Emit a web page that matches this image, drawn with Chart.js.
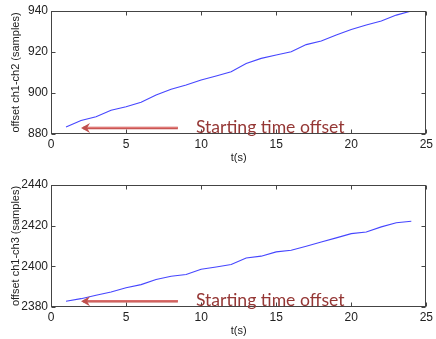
<!DOCTYPE html>
<html>
<head>
<meta charset="utf-8">
<script src="https://cdn.jsdelivr.net/npm/chart.js@4.4.0/dist/chart.umd.min.js"></script>
<style>
	body { margin: 0; background: #fff; }
	.box { position: absolute; left: 0; width: 436px; }
</style>
</head>
<body>
<div class="box" style="top:0;height:170px"><canvas id="ch12" width="436" height="170"></canvas></div>
<div class="box" style="top:170px;height:169px"><canvas id="ch13" width="436" height="169"></canvas></div>
<script>
// time axis (s)
const times = [1, 2, 3, 4, 5, 6, 7, 8, 9, 10, 11, 12, 13, 14, 15, 16, 17, 18, 19, 20, 21, 22, 23, 24];
// offset ch1-ch2 (samples)
const offset12 = [883.4, 886.6, 888.4, 891.6, 893.3, 895.5, 899.0, 901.8, 903.9, 906.3, 908.3, 910.4,
	914.4, 916.9, 918.5, 920.1, 923.6, 925.4, 928.3, 931.0, 933.2, 935.1, 938.0, 940.0];
// offset ch1-ch3 (samples)
const offset13 = [2382.8, 2384.1, 2385.8, 2387.4, 2389.5, 2391.0, 2393.5, 2395.1, 2396.0, 2398.6, 2399.7, 2400.9,
	2404.1, 2405.0, 2407.1, 2407.9, 2409.9, 2412.0, 2414.0, 2416.1, 2416.9, 2419.4, 2421.4, 2422.2];
const xTicks = [0, 5, 10, 15, 20, 25];
const yTicks12 = [880, 900, 920, 940];
const yTicks13 = [2380, 2400, 2420, 2440];
const noteText = 'Starting time offset';

const tickFont = { family: "'Liberation Sans', Arial, sans-serif", size: 12 };
const titleFont = { family: "'Liberation Sans', Arial, sans-serif", size: 11 };

// boite + ticks vers l'interieur, style matlab
const framePlugin = {
	id: 'frame',
	afterDraw(chart) {
		const { ctx, chartArea: a, scales } = chart;
		ctx.save();
		ctx.strokeStyle = '#444';
		ctx.lineWidth = 1;
		const l = Math.round(a.left) + 0.5, r = Math.round(a.right) - 0.5;
		const t = Math.round(a.top) + 0.5, b = Math.round(a.bottom) - 0.5;
		ctx.strokeRect(l, t, r - l, b - t);
		ctx.beginPath();
		scales.x.ticks.forEach((tk) => {
			const px = Math.round(scales.x.getPixelForValue(tk.value)) + 0.5;
			ctx.moveTo(px, b); ctx.lineTo(px, b - 4);
			ctx.moveTo(px, t); ctx.lineTo(px, t + 4);
		});
		scales.y.ticks.forEach((tk) => {
			const py = Math.round(scales.y.getPixelForValue(tk.value)) + 0.5;
			ctx.moveTo(l, py); ctx.lineTo(l + 4, py);
			ctx.moveTo(r, py); ctx.lineTo(r - 4, py);
		});
		ctx.stroke();
		ctx.restore();
	}
};

// fleche + texte, positions en coordonnees des donnees
const notePlugin = {
	id: 'note',
	afterDraw(chart, args, opts) {
		const { ctx, scales } = chart;
		const x0 = scales.x.getPixelForValue(opts.from);
		const x1 = scales.x.getPixelForValue(opts.to);
		const y = scales.y.getPixelForValue(opts.y);
		ctx.save();
		ctx.lineCap = 'butt';
		ctx.strokeStyle = '#bf4a47';
		ctx.lineWidth = 2.6;
		ctx.beginPath();
		ctx.moveTo(x0, y); ctx.lineTo(x1 + 2, y);
		ctx.stroke();
		ctx.strokeStyle = '#e27a77';
		ctx.lineWidth = 1.2;
		ctx.beginPath();
		ctx.moveTo(x0, y - 0.4); ctx.lineTo(x1 + 2, y - 0.4);
		ctx.stroke();
		ctx.fillStyle = '#c0504d';
		ctx.beginPath();
		ctx.moveTo(x1, y);
		ctx.lineTo(x1 + 9, y - 5);
		ctx.lineTo(x1 + 6, y);
		ctx.lineTo(x1 + 9, y + 5);
		ctx.closePath();
		ctx.fill();
		ctx.fillStyle = '#953735';
		ctx.font = "17.6px Lato, 'Open Sans', sans-serif";
		ctx.textBaseline = 'middle';
		ctx.textAlign = 'left';
		ctx.fillText(noteText, scales.x.getPixelForValue(opts.textX), y - 1);
		ctx.restore();
	}
};

function newPlot(id, values, yTicks, yTitle, geo, note) {
	const ctx = document.getElementById(id);
	return new Chart(ctx, {
		type: 'line',
		data: {
			datasets: [{
				data: times.map((t, i) => ({ x: t, y: values[i] })),
				borderColor: 'rgb(70,70,255)',
				borderWidth: 1.1,
				pointRadius: 0,
				tension: 0,
				fill: false,
			}]
		},
		options: {
			responsive: false,
			animation: false,
			layout: { padding: { top: geo.top, right: 4, left: 0, bottom: 0 } },
			plugins: {
				legend: { display: false },
				tooltip: { enabled: false },
				note: note,
			},
			scales: {
				x: {
					type: 'linear',
					min: 0, max: 25,
					afterBuildTicks: (s) => { s.ticks = xTicks.map((v) => ({ value: v })); },
					afterFit: (s) => { s.height = geo.xHeight; },
					grid: { display: false, drawTicks: false },
					border: { display: false },
					ticks: { font: tickFont, color: '#222', padding: 3, maxRotation: 0, callback: (v) => String(v) },
					title: { display: true, text: 't(s)', font: titleFont, color: '#222', padding: { top: 0, bottom: geo.titlePad } },
				},
				y: {
					type: 'linear',
					min: yTicks[0], max: yTicks[yTicks.length - 1],
					afterBuildTicks: (s) => { s.ticks = yTicks.map((v) => ({ value: v })); },
					afterFit: (s) => { s.width = 51; },
					grid: { display: false, drawTicks: false },
					border: { display: false },
					ticks: { font: tickFont, color: '#222', padding: 3, callback: (v) => String(v) },
					title: { display: true, text: yTitle, font: titleFont, color: '#222', padding: { top: 9, bottom: 0 } },
				}
			}
		},
		plugins: [framePlugin, notePlugin]
	});
}

newPlot('ch12', offset12, yTicks12, 'offset ch1-ch2 (samples)',
	{ top: 11, xHeight: 36, titlePad: 5 },
	{ from: 8.45, to: 2.0, y: 882.9, textX: 9.65 });
newPlot('ch13', offset13, yTicks13, 'offset ch1-ch3 (samples)',
	{ top: 15, xHeight: 32, titlePad: 1 },
	{ from: 8.45, to: 2.0, y: 2382.8, textX: 9.65 });
</script>
</body>
</html>
